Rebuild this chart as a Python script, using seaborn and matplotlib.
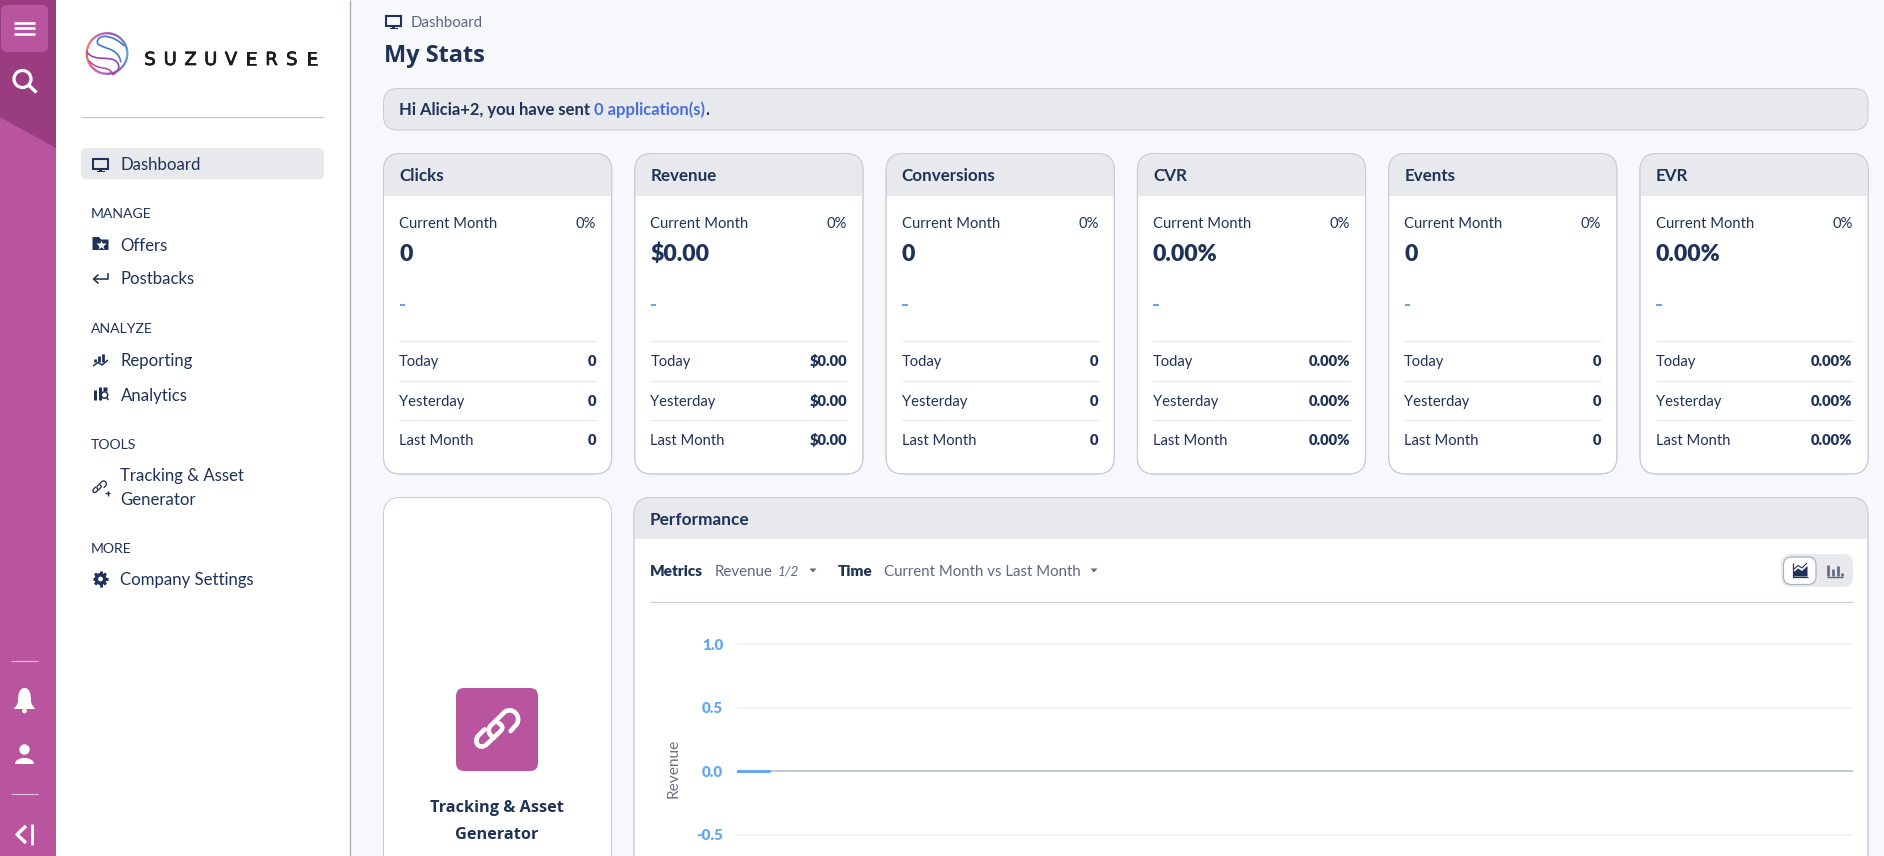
import numpy as np
import pandas as pd
import seaborn as sns
import matplotlib
matplotlib.use("Agg")
import matplotlib.pyplot as plt
import matplotlib.patheffects as pe
from matplotlib.patches import FancyBboxPatch, Rectangle, Polygon, Circle, PathPatch
from matplotlib.path import Path
from matplotlib.colors import LinearSegmentedColormap

sns.set_style("white")
plt.rcParams["font.family"] = ["Lato", "DejaVu Sans"]

# card data
card_titles = ["Clicks", "Revenue", "Conversions", "CVR", "Events", "EVR"]
month_values = ["0", "$0.00", "0", "0.00%", "0", "0.00%"]
month_change = ["0%", "0%", "0%", "0%", "0%", "0%"]
today_values = ["0", "$0.00", "0", "0.00%", "0", "0.00%"]
yesterday_values = ["0", "$0.00", "0", "0.00%", "0", "0.00%"]
last_month_values = ["0", "$0.00", "0", "0.00%", "0", "0.00%"]
row_labels = ["Today", "Yesterday", "Last Month"]

# sidebar text
nav_headers = ["MANAGE", "ANALYZE", "TOOLS", "MORE"]
nav_items = ["Dashboard", "Offers", "Postbacks", "Reporting", "Analytics",
             "Tracking & Asset", "Generator", "Company Settings"]

# chart data
current_days = [1, 1.87]
current_revenue = [0, 0]
last_days = [1, 5, 10, 15, 20, 25, 31]
last_revenue = [0, 0, 0, 0, 0, 0, 0]
y_ticks = [1.0, 0.5, 0.0, -0.5]

NAVY = "#1f3257"
SLATE = "#5d6880"
PURPLE = "#b9549e"
DARK_PURPLE = "#9a3c80"
BORDER = "#c8ccd8"
HEAD = "#e8e9ed"
BLUE = "#64a8f0"
MED = "bold"
BOLD = "heavy"
W, H = 1884, 856

fig = plt.figure(figsize=(W / 100, H / 100), dpi=100, facecolor="#f7f8fb")
bg = fig.add_axes([0, 0, 1, 1])
bg.set_xlim(0, W)
bg.set_ylim(H, 0)
bg.axis("off")


def txt(x, y, s, px=15, color=NAVY, **kw):
    return bg.text(x, y, s, fontsize=px * 0.72, color=color, va="baseline", **kw)


def line(xs, ys, color=NAVY, px=2, **kw):
    kw.setdefault("solid_capstyle", "butt")
    bg.plot(xs, ys, color=color, lw=px * 0.72, **kw)


def rbox(x0, y0, x1, y1, r, fc, ec="none", px=1.0, **kw):
    p = FancyBboxPatch((x0, y0), x1 - x0, y1 - y0, boxstyle=f"round,pad=0,rounding_size={r}",
                       fc=fc, ec=ec, lw=px * 0.72, **kw)
    bg.add_patch(p)
    return p


def card(x0, y0, x1, y1, head_bottom=None):
    p = rbox(x0, y0, x1, y1, 17, "white", BORDER)
    if head_bottom:
        h = Rectangle((x0, y0), x1 - x0, head_bottom - y0, fc=HEAD, ec="none")
        bg.add_patch(h)
        h.set_clip_path(p)
        rbox(x0, y0, x1, y1, 17, "none", BORDER)


def monitor(cx, cy, color=NAVY):
    bg.add_patch(Rectangle((cx - 7.2, cy - 6), 14.4, 9.5, fc="none", ec=color, lw=1.5))
    bg.add_patch(Rectangle((cx - 1.5, cy + 3.5), 3, 2.5, fc=color, ec="none"))
    bg.add_patch(Rectangle((cx - 4, cy + 5.5), 8, 1.5, fc=color, ec="none"))


def curve(pts, codes, ox, oy, color, px, scale=1 / 3):
    # pts are given in zoomed crop pixels, 3x
    verts = [(ox + a * scale, oy + b * scale) for a, b in pts]
    bg.add_patch(PathPatch(Path(verts, codes), fc="none", ec=color, lw=px * 0.72,
                           capstyle="round", zorder=3))


# sidebars
bg.add_patch(Rectangle((0, 0), 56, H, fc=PURPLE, ec="none"))
bg.add_patch(Polygon([(0, 0), (56, 0), (56, 148), (0, 117)], fc=DARK_PURPLE, ec="none"))
rbox(1, 5, 48, 52, 6, PURPLE)
for yy in [22.5, 28, 33.5]:
    line([14, 35], [yy, yy], "white", 2.6)
bg.add_patch(Circle((22.5, 79), 8.5, fc="none", ec="white", lw=2.3))
line([28.5, 36.5], [85, 92.5], "white", 3.4)

line([11, 38], [661, 661], "#dfbcd6", 1.2)
line([11, 38], [794, 794], "#dfbcd6", 1.2)
bell = Path([(24.5, 688), (30, 688), (31, 695), (31, 701), (31, 705), (35, 708), (35, 709),
             (14, 709), (14, 708), (18, 705), (18, 701), (18, 695), (19, 688), (24.5, 688)],
            [Path.MOVETO, Path.CURVE4, Path.CURVE4, Path.CURVE4, Path.CURVE4, Path.CURVE4, Path.CURVE4,
             Path.LINETO, Path.CURVE4, Path.CURVE4, Path.CURVE4, Path.CURVE4, Path.CURVE4, Path.CURVE4])
bg.add_patch(PathPatch(bell, fc="white", ec="none"))
bg.add_patch(Circle((24.5, 711), 2.4, fc="white", ec="none"))
bg.add_patch(Circle((24.5, 749.5), 5.2, fc="white", ec="none"))
body = Path([(15, 764), (15, 756), (34, 756), (34, 764), (15, 764)],
            [Path.MOVETO, Path.CURVE4, Path.CURVE4, Path.CURVE4, Path.CLOSEPOLY])
bg.add_patch(PathPatch(body, fc="white", ec="none"))
line([26, 17, 26], [826, 834.5, 843], "white", 3.4)
line([32, 32], [824, 845], "white", 2.8)

bg.add_patch(Rectangle((56, 0), 293.5, H, fc="white", ec="none"))
line([349.7, 349.7], [0, H], "#a9aeb8", 1.4)

# logo ring and inner curves
logo_cmap = LinearSegmentedColormap.from_list(
    "logo", ["#2f93d2", "#6b58b8", "#a63ea8", "#e0505f", "#e8605a", "#a63ea8", "#6b58b8", "#2f93d2"])
angles = np.linspace(0, 2 * np.pi, 120)
for a0, a1 in zip(angles[:-1], angles[1:]):
    line([107 + 20.3 * np.cos(a0), 107 + 20.3 * np.cos(a1)],
         [53.5 + 20.3 * np.sin(a0), 53.5 + 20.3 * np.sin(a1)], logo_cmap(a0 / (2 * np.pi)), 2.2)
C4 = Path.CURVE4
L = Path.LINETO
M = Path.MOVETO
curve([(132, 62), (100, 30), (55, 25), (52, 50), (50, 72), (115, 62), (122, 110)],
      [M, C4, C4, C4, C4, C4, C4], 80, 25, "#4a78c8", 1.7)
curve([(22, 82), (45, 115), (100, 85), (115, 118), (120, 132), (110, 142), (100, 148)],
      [M, C4, C4, C4, C4, C4, C4], 80, 25, "#9a46b0", 1.7)
curve([(28, 108), (55, 140), (85, 118), (98, 148)],
      [M, C4, C4, C4], 80, 25, "#b845a0", 1.5)
for i, ch in enumerate("SUZUVERSE"):
    t = bg.text(150 + i * 20.25, 65, ch, fontsize=13, color="#1a1a1a", ha="center", va="baseline",
                family="DejaVu Sans")
    t.set_path_effects([pe.withStroke(linewidth=0.5, foreground="#1a1a1a")])
line([81, 324], [116.5, 116.5], "#c5cad5", 1.2)

# sidebar nav
rbox(81, 148, 324, 179, 5, HEAD)
monitor(100.5, 165)
nav_base = [170, 250.7, 284, 365.7, 400.7, 481, 505, 585]
for s, yy in zip(nav_items, nav_base):
    txt(120.5, yy, s, 16.8)
for s, yy in zip(nav_headers, [218, 332.7, 448.7, 553]):
    txt(91, yy, s, 14)

# link hooks used twice, small in the nav and large in the card
hook_a = [(74, 103), (55, 122), (40, 140), (55, 165), (78, 150), (122, 108), (132, 98), (125, 88), (115, 84)]
hook_b = [(152, 108), (170, 88), (185, 65), (160, 35), (135, 50), (92, 92), (80, 105), (88, 122), (102, 128)]
hook_codes = [M, L, C4, C4, C4, L, C4, C4, C4]

# nav icons
bg.add_patch(Polygon([(92.5, 237), (99, 237), (101, 239.5), (108.5, 239.5), (108.5, 250), (92.5, 250)],
                     fc=NAVY, ec="none"))
bg.plot([100.5], [245], marker="*", ms=7.5, color="white", mec="none")
line([108, 108, 94], [273, 279, 279], NAVY, 1.6)
line([98.5, 93.5, 98.5], [274.5, 279, 283.5], NAVY, 1.6)
for xx, y0 in [(94.5, 359), (98.5, 356), (102.5, 354)]:
    line([xx, xx], [y0, 362], NAVY, 2.8)
line([93, 98, 102, 108], [366, 362.5, 365, 360], NAVY, 1.5)
for xx, y0, w in [(95, 390, 3), (100, 387, 3)]:
    line([xx, xx], [y0, 400], NAVY, w)
bg.add_patch(Circle((104.5, 395), 3.2, fc="none", ec=NAVY, lw=1.1, zorder=3))
line([106.5, 108.5], [397.5, 400], NAVY, 1.5)
bg.plot([104.5], [389], marker="s", ms=2.4, color=NAVY, mec="none")
curve(hook_a, hook_codes, 87.7, 476, NAVY, 1.3, scale=0.107)
curve(hook_b, hook_codes, 87.7, 476, NAVY, 1.3, scale=0.107)
line([105, 110], [493, 493], NAVY, 1.4)
line([107.5, 107.5], [490.5, 495.5], NAVY, 1.4)
for a in np.arange(0, np.pi, np.pi / 4):
    line([100.5 - 7.8 * np.cos(a), 100.5 + 7.8 * np.cos(a)],
         [579 - 7.8 * np.sin(a), 579 + 7.8 * np.sin(a)], NAVY, 3)
bg.add_patch(Circle((100.5, 579), 6, fc=NAVY, ec="none", zorder=3))
bg.add_patch(Circle((100.5, 579), 2.4, fc="white", ec="none", zorder=4))

# header area
monitor(393.5, 22)
txt(411, 27.3, "Dashboard", 15, SLATE)
txt(384.5, 61.7, "My Stats", 23.5, NAVY, weight="bold", family=["Open Sans", "Lato"])
rbox(383.5, 88.5, 1868, 130, 14, HEAD, BORDER)
hi = txt(399, 115, "Hi Alicia+2, you have sent ", 16.6, NAVY, weight=MED)
fig.canvas.draw()
end = bg.transData.inverted().transform(hi.get_window_extent().extents[2:].reshape(1, 2))[0][0]
app = txt(end, 115, "0 application(s)", 16.6, "#4a6fd8", weight=MED)
end2 = bg.transData.inverted().transform(app.get_window_extent().extents[2:].reshape(1, 2))[0][0]
txt(end2, 115, ".", 16.6, NAVY, weight=MED)

# stat cards
for i, title in enumerate(card_titles):
    x0 = 383.5 + i * 251.3
    x1 = x0 + 228.2
    tx = x0 + 15.5
    rx = x1 - 15.7
    card(x0, 153.5, x1, 474, 196)
    txt(tx, 181, title, 17, NAVY, weight=MED)
    txt(tx, 228, "Current Month", 14.7, NAVY)
    txt(rx, 228, month_change[i], 14.7, NAVY, ha="right")
    txt(tx, 260.7, month_values[i], 23, NAVY, weight=BOLD)
    line([tx + 0.5, tx + 6], [304.5, 304.5], BLUE, 2)
    for j, (lab, val) in enumerate(zip(row_labels, [today_values[i], yesterday_values[i], last_month_values[i]])):
        yy = [366, 406, 445][j]
        line([tx, rx], [yy - 25, yy - 25], "#e6e8ec", 1.2)
        txt(tx, yy, lab, 14.7, NAVY)
        txt(rx, yy, val, 14.7, NAVY, ha="right", weight=BOLD)

# lower left card
card(383.5, 497.5, 611.7, 900)
rbox(456, 688, 538, 771, 8, PURPLE)
curve(hook_a, hook_codes, 460, 695, "white", 4.6)
curve(hook_b, hook_codes, 460, 695, "white", 4.6)
txt(497, 812, "Tracking & Asset", 16.2, NAVY, ha="center", weight="bold", family=["Open Sans", "Lato"])
txt(497, 839, "Generator", 16.2, NAVY, ha="center", weight="bold", family=["Open Sans", "Lato"])

# performance card
card(634, 497.5, 1868, 900, 539)
txt(650, 525, "Performance", 17.2, NAVY, weight=MED)
txt(650, 576, "Metrics", 15.2, NAVY, weight=BOLD)
txt(715, 576, "Revenue", 15, SLATE)
txt(778, 576, "1/2", 13.5, SLATE, style="italic")
txt(837.5, 576, "Time", 15.2, NAVY, weight=BOLD)
txt(884, 576, "Current Month vs Last Month", 15, SLATE)
for cx in [813, 1094]:
    bg.add_patch(Polygon([(cx - 3.5, 568.5), (cx + 3.5, 568.5), (cx, 572.5)], fc=SLATE, ec="none"))
line([650, 1853], [602, 602], BORDER, 1.2)

# chart type toggle
rbox(1781, 554, 1853, 587, 10, HEAD)
rbox(1783.5, 557, 1816, 584.5, 8, "white", "#a9b0c4", px=1.2)
line([1792.5, 1792.5, 1807.5], [563, 577, 577], NAVY, 1.2)
bg.add_patch(Polygon([(1794, 576.5), (1794, 572), (1798, 568.5), (1802, 571), (1807.5, 566), (1807.5, 576.5)],
                     fc=NAVY, ec="none"))
line([1794, 1798, 1802, 1807], [569, 565.5, 568, 563], NAVY, 1.1)
for xx, y0 in [(1828, 565), (1833, 569), (1838, 566), (1842, 573)]:
    line([xx, xx], [y0, 576], SLATE, 2.6)
line([1827, 1843], [577, 577], SLATE, 1.3)

# chart, the axes ends at the bottom edge of the screenshot
ax = fig.add_axes([736.5 / W, 0, (1853 - 736.5) / W, (H - 625) / H], facecolor="none")
last_df = pd.DataFrame({"day": last_days, "revenue": last_revenue})
current_df = pd.DataFrame({"day": current_days, "revenue": current_revenue})
ax.set_yticks(y_ticks)
ax.set_yticklabels([f"{v:.1f}" for v in y_ticks], fontsize=11, color=BLUE, weight=BOLD)
ax.tick_params(axis="y", length=0, pad=9.5)
ax.set_xticks([])
ax.grid(axis="y", color="#eef0f3", lw=1.1)
ax.set_axisbelow(True)
sns.despine(ax=ax, left=True, bottom=True)
sns.lineplot(data=last_df, x="day", y="revenue", color="#bcc3d0", lw=1.2, ax=ax, zorder=2)
sns.lineplot(data=current_df, x="day", y="revenue", color=BLUE, lw=2.2, ax=ax, zorder=3)
ax.set_xlim(1, 31)
ax.set_ylim(-0.669, 1.150)
ax.set_xlabel("")
ax.set_ylabel("Revenue", fontsize=11.2, color="#6b7484")
ax.yaxis.set_label_coords(681, 768, transform=bg.transData)

fig.savefig("out.png", dpi=100, facecolor=fig.get_facecolor())
